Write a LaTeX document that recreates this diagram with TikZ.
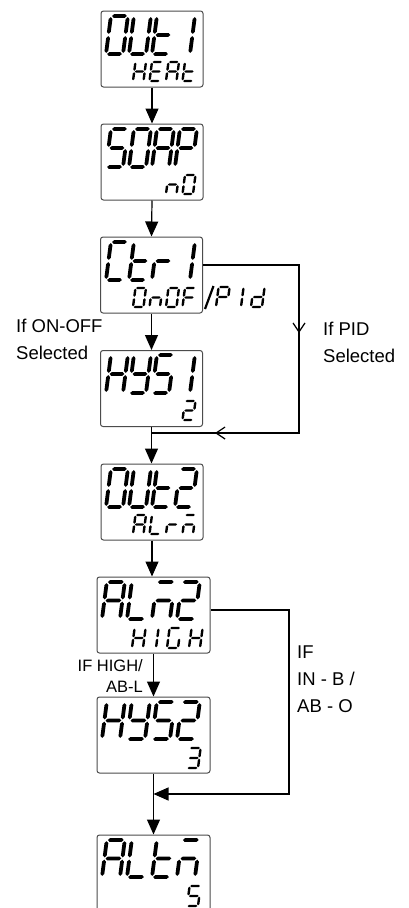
\documentclass[tikz,border=0pt]{standalone}
\usepackage{fontspec}
\setmainfont{Liberation Sans}
\usetikzlibrary{arrows.meta,decorations.markings}

\tikzset{
  box/.style={draw=black!70, line width=1pt, rounded corners=2.5pt, minimum width=102pt, minimum height=76pt, inner sep=0pt},
  wbox/.style={box, minimum width=113pt},
  conn/.style={line width=1.2pt},
  arr/.style={conn, -{Triangle[length=15pt,width=13pt]}},
  lab/.style={inner sep=0pt, font=\fontsize{18.5}{27}\selectfont},
  slab/.style={inner sep=0pt, font=\fontsize{16.5}{21}\selectfont},
  barb/.tip={Straight Barb[length=9pt,width=12pt]},
}
% tapered segments (coordinates in pt inside a digit scope)
\newcommand\hseg[3]{\fill ({#1},{#3}) -- ({#1+\sgh},{#3+\sgh}) -- ({#2-\sgh},{#3+\sgh}) -- ({#2},{#3}) -- ({#2-\sgh},{#3-\sgh}) -- ({#1+\sgh},{#3-\sgh}) -- cycle;}
\newcommand\vseg[3]{\fill ({#1},{#2}) -- ({#1+\sgh},{#2+\sgh}) -- ({#1+\sgh},{#3-\sgh}) -- ({#1},{#3}) -- ({#1-\sgh},{#3-\sgh}) -- ({#1-\sgh},{#2+\sgh}) -- cycle;}
\pgfkeys{
  /seg/sa/.code={\hseg{\sgp}{\sw-\sgp}{\sh}},
  /seg/sb/.code={\vseg{\sw}{\sh/2+\sgp}{\sh-\sgp}},
  /seg/sc/.code={\vseg{\sw}{\sgp}{\sh/2-\sgp}},
  /seg/sd/.code={\hseg{\sgp}{\sw-\sgp}{0}},
  /seg/se/.code={\vseg{0}{\sgp}{\sh/2-\sgp}},
  /seg/sf/.code={\vseg{0}{\sh/2+\sgp}{\sh-\sgp}},
  /seg/sg/.code={\hseg{\sgp}{\sw-\sgp}{\sh/2}},
  /seg/O/.style={sa,sb,sc,sd,se,sf},
  /seg/U/.style={sb,sc,sd,se,sf},
  /seg/t/.style={sd,se,sf,sg},
  /seg/1/.style={sb,sc},
  /seg/2/.style={sa,sb,sg,se,sd},
  /seg/3/.style={sa,sb,sg,sc,sd},
  /seg/5/.style={sa,sf,sg,sc,sd},
  /seg/S/.style={sa,sf,sg,sc,sd},
  /seg/H/.style={sb,sc,se,sf,sg},
  /seg/E/.style={sa,sd,se,sf,sg},
  /seg/A/.style={sa,sb,sc,se,sf,sg},
  /seg/P/.style={sa,sb,se,sf,sg},
  /seg/n/.style={sc,se,sg},
  /seg/C/.style={sa,sd,se,sf},
  /seg/r/.style={se,sg},
  /seg/F/.style={sa,se,sf,sg},
  /seg/Y/.style={sb,sc,sd,sf,sg},
  /seg/L/.style={sd,se,sf},
  /seg/m/.style={sa,sc,se,sg},
  /seg/I/.style={se,sf},
  /seg/G/.style={sa,sc,sd,se,sf},
  /seg/d/.style={sb,sc,sd,se,sg},
}
% x, y (bottom-left), width, height, thickness, glyph
\newcommand\sseg[6]{%
  \begin{scope}[shift={(#1,#2)},x=1pt,y=1pt,xslant=0.13]
    \def\sw{#3}\def\sh{#4}%
    \pgfmathsetmacro\sgh{#5/2}\pgfmathsetmacro\sgp{#5*0.3}%
    \edef\ssegtmp{\noexpand\pgfkeys{/seg/.cd,#6}}\ssegtmp
  \end{scope}}
% baseline y, width, height, thickness, list x/glyph
\newcommand\sword[5]{\foreach \px/\gl in {#5}{\sseg{\px}{#1}{#2}{#3}{#4}{\gl}}}

\begin{document}
\begin{tikzpicture}[x=1pt,y=-1pt]
\useasboundingbox (0,0) rectangle (409,908);
\clip (0,0) rectangle (409,908);
\fill[white] (0,0) rectangle (409,908);

% boxes
\node[box] (b1) at (152,49) {};
\node[box] (b2) at (152,162) {};
\node[box] (b3) at (151.5,275) {};
\node[box] (b4) at (151.5,388.5) {};
\node[box] (b5) at (152,502) {};
\node[wbox] (b6) at (153.5,615) {};
\node[wbox] (b7) at (153.5,735) {};
\node[wbox, minimum height=78pt] (b8) at (153.5,874) {};

% connectors
\draw[arr] (b1.south) -- (b2.north);
\draw[arr] (b2.south) -- (b3.north);
\draw[arr] (b3.south) -- (b4.north);
\coordinate (m1) at (151.5,433);
\coordinate (r1) at (299,265);
\draw[conn] (b4.south) -- (m1);
\draw[arr] (m1) -- (b5.north -| m1);
\draw[conn, postaction={decorate}, decoration={markings,
   mark=at position 164pt with {\arrow{barb}},
   mark=at position 348pt with {\arrow{barb}}}]
   (b3.east |- r1) -- (r1) -- (r1 |- m1) -- (m1);
\draw[arr] (b5.south) -- (b5.south |- b6.north);
\draw[arr] (b6.south) -- (b7.north);
\coordinate (m2) at (153.5,794);
\coordinate (r2) at (289,610);
\draw[conn] (b7.south) -- (m2);
\draw[arr] (m2) -- (b8.north);
\draw[arr] (b6.east |- r2) -- (r2) -- (r2 |- m2) -- (m2);

% labels (base anchor = baseline of last line)
\node[lab, align=left, anchor=base west] (l1) at (16,359) {If ON-OFF\\Selected};
\node[lab, align=left, anchor=base west] (l2) at (323,362) {If PID\\Selected};
\node[slab, align=right, anchor=base east] (l3) at (143,692) {IF HIGH/\\AB-L};
\node[lab, align=left, anchor=base west] (l4) at (297,712) {IF\\IN - B /\\AB - O};

% seven-segment texts
\sword{54}{17}{38}{3.8}{106/O,129/U,152/t,173/1}
\sword{81}{10.5}{19}{2.4}{133/H,149.5/E,166/A,182.5/t}
\sword{167}{17}{38}{3.8}{106/S,129/O,152/A,175/P}
\sword{194}{10.5}{19}{2.4}{166/n,182.5/O}
\sword{280}{17}{38}{3.8}{106/C,129/t,152/r,173/1}
\sword{307}{10.5}{19}{2.4}{133/O,149.5/n,166/O,182.5/F}
\draw[line width=2.2pt] (205,309) -- (213.5,286);
\sword{307}{11}{20}{2.4}{216/P,230/1,251/d}
\sword{393}{17}{38}{3.8}{106/H,129/Y,152/S,173/1}
\sword{420}{10.5}{19}{2.4}{182.5/2}
\sword{507}{17}{38}{3.8}{106/O,129/U,152/t,175/2}
\sword{534}{10.5}{19}{2.4}{133/A,149.5/L,166/r,182.5/m}
\sword{619}{18}{37}{3.8}{102/A,127/L,152/m,177/2}
\sword{648}{11}{20}{2.4}{132/H,156/I,167/G,189/H}
\sword{739}{18}{37}{3.8}{102/H,127/Y,152/S,177/2}
\sword{768}{11}{20}{2.4}{187/3}
\sword{877}{18}{37}{3.8}{102/A,127/L,152/t,177/m}
\sword{906}{11}{20}{2.4}{187/5}
\end{tikzpicture}
\end{document}
